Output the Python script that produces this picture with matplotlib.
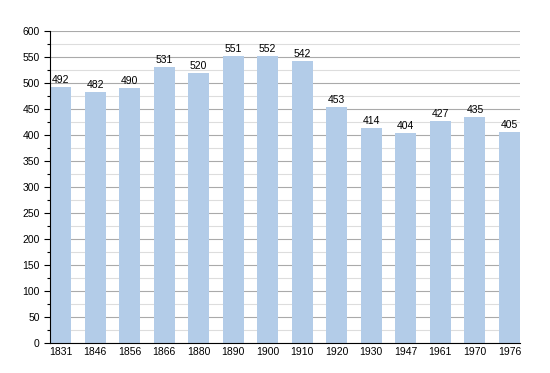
import matplotlib.pyplot as plt
import numpy as np
from matplotlib.ticker import MultipleLocator

years = ['1831', '1846', '1856', '1866', '1880', '1890', '1900',
         '1910', '1920', '1930', '1947', '1961', '1970', '1976']
population = [492, 482, 490, 531, 520, 551, 552, 542, 453, 414, 404, 427, 435, 405]

plt.rcParams['font.family'] = ['Liberation Sans', 'DejaVu Sans']

fig = plt.figure(figsize=(5.5, 3.73), dpi=100)
ax = fig.add_axes([0.0909, 0.0804, 0.8545, 0.8365])

x = np.arange(len(years))
w = 0.61
bars = ax.bar(x, population, width=w, color='#b3cce8', zorder=2)
for xi, v in zip(x, population):
    ax.text(xi, v + 4, str(v), ha='center', va='bottom', fontsize=7.5, zorder=3)

ax.set_xlim(-w / 2, len(years) - 1 + w / 2)
ax.set_ylim(0, 600)
ax.yaxis.set_major_locator(MultipleLocator(50))
ax.yaxis.set_minor_locator(MultipleLocator(25))
ax.grid(which='major', axis='y', color='#aaaaaa', linewidth=0.8, zorder=0)
ax.grid(which='minor', axis='y', color='#dddddd', linewidth=0.8, zorder=0)
ax.set_xticks(x)
ax.set_xticklabels(years)
ax.tick_params(axis='x', length=0, labelsize=7.5, pad=3)
ax.tick_params(axis='y', which='major', length=4, labelsize=7.5, width=0.8)
ax.tick_params(axis='y', which='minor', length=2, width=0.8)
for s in ['top', 'right']:
    ax.spines[s].set_visible(False)
ax.spines['left'].set_zorder(4)
ax.spines['bottom'].set_zorder(4)

plt.savefig('out.png')
